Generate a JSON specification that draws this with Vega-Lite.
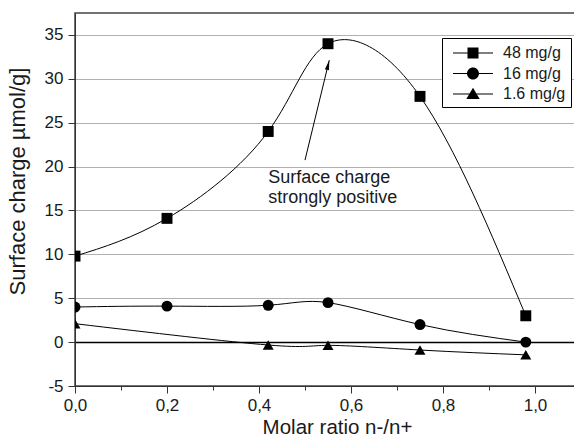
{
  "$schema": "https://vega.github.io/schema/vega-lite/v6.json",
  "width": 503,
  "height": 373,
  "autosize": "none",
  "padding": {"left": 75, "top": 13, "right": 0, "bottom": 55},
  "background": "white",
  "config": {
    "font": "Liberation Sans",
    "view": {"stroke": "#444", "strokeWidth": 1.5}
  },
  "datasets": {
    "curves": [
      {"ratio": 0, "charge": 9.8, "series": "48 mg/g"},
      {"ratio": 0.2, "charge": 14.1, "series": "48 mg/g"},
      {"ratio": 0.42, "charge": 24, "series": "48 mg/g"},
      {"ratio": 0.55, "charge": 34, "series": "48 mg/g"},
      {"ratio": 0.75, "charge": 28, "series": "48 mg/g"},
      {"ratio": 0.98, "charge": 3, "series": "48 mg/g"},
      {"ratio": 0, "charge": 4, "series": "16 mg/g"},
      {"ratio": 0.2, "charge": 4.1, "series": "16 mg/g"},
      {"ratio": 0.42, "charge": 4.2, "series": "16 mg/g"},
      {"ratio": 0.55, "charge": 4.5, "series": "16 mg/g"},
      {"ratio": 0.75, "charge": 2, "series": "16 mg/g"},
      {"ratio": 0.98, "charge": 0, "series": "16 mg/g"},
      {"ratio": 0, "charge": 2.1, "series": "1.6 mg/g"},
      {"ratio": 0.42, "charge": -0.33, "series": "1.6 mg/g"},
      {"ratio": 0.55, "charge": -0.37, "series": "1.6 mg/g"},
      {"ratio": 0.75, "charge": -0.9, "series": "1.6 mg/g"},
      {"ratio": 0.98, "charge": -1.45, "series": "1.6 mg/g"}
    ],
    "note": [{"x": 0.42, "y": 18.1}],
    "arrow": [{"x": 0.5, "y": 20.74, "x2": 0.5528, "y2": 32.13}]
  },
  "resolve": {"scale": {"shape": "independent"}},
  "layer": [
    {
      "data": {"name": "curves"},
      "mark": {"type": "line", "interpolate": "natural", "color": "black", "strokeWidth": 1, "clip": true},
      "encoding": {
        "x": {
          "field": "ratio", "type": "quantitative",
          "scale": {"domain": [0, 1.0935], "nice": false, "zero": false},
          "axis": {
            "title": "Molar ratio n-/n+",
            "values": [0, 0.1, 0.2, 0.3, 0.4, 0.5, 0.6, 0.7, 0.8, 0.9, 1.0],
            "grid": false,
            "labelFlush": false,
            "labelExpr": "abs(round(datum.value*10)%2)==0 ? replace(format(datum.value,'.1f'),'.',',') : ''",
            "tickSize": {"condition": {"test": "abs(round(datum.value*10)%2)==1", "value": 4}, "value": 7},
            "labelFontSize": 17,
            "titleFontSize": 20.5,
            "titleFontWeight": "normal",
            "labelColor": "#1a1a1a",
            "titleColor": "#1a1a1a",
            "domainColor": "#333",
            "tickColor": "#333",
            "labelPadding": 4,
            "titlePadding": 4,
            "titleX": 262,
            "titleAnchor": null
          }
        },
        "y": {
          "field": "charge", "type": "quantitative",
          "scale": {"domain": [-5, 37.5], "nice": false, "zero": false},
          "axis": {
            "title": "Surface charge µmol/g]",
            "values": [-5, -2.5, 0, 2.5, 5, 7.5, 10, 12.5, 15, 17.5, 20, 22.5, 25, 27.5, 30, 32.5, 35],
            "grid": true,
            "labelFlush": false,
            "gridColor": {"condition": {"test": "datum.value==0", "value": "black"}, "value": "#b0b0b0"},
            "gridOpacity": {"condition": {"test": "datum.value%5!=0 || datum.value==-5", "value": 0}, "value": 1},
            "gridWidth": {"condition": {"test": "datum.value==0", "value": 1.3}, "value": 1},
            "labelExpr": "datum.value%5==0 ? '' + datum.value : ''",
            "tickSize": {"condition": {"test": "datum.value%5!=0", "value": 4}, "value": 7},
            "labelFontSize": 17,
            "titleFontSize": 22,
            "titleFontWeight": "normal",
            "labelColor": "#1a1a1a",
            "titleColor": "#1a1a1a",
            "domainColor": "#333",
            "tickColor": "#333",
            "labelPadding": 5,
            "titlePadding": 15,
            "titleY": 168
          }
        },
        "detail": {"field": "series"}
      }
    },
    {
      "data": {"name": "curves"},
      "mark": {"type": "point", "filled": true, "color": "black", "opacity": 1, "size": 120, "clip": true},
      "encoding": {
        "x": {"field": "ratio", "type": "quantitative"},
        "y": {"field": "charge", "type": "quantitative"},
        "shape": {
          "field": "series", "type": "nominal",
          "scale": {"domain": ["48 mg/g", "16 mg/g", "1.6 mg/g"], "range": ["square", "circle", "triangle-up"]},
          "legend": null
        }
      }
    },
    {
      "data": {"name": "curves"},
      "mark": {"type": "point", "filled": true, "fill": "black", "opacity": 0},
      "encoding": {
        "x": {"field": "ratio", "type": "quantitative"},
        "y": {"field": "charge", "type": "quantitative"},
        "shape": {
          "field": "series", "type": "nominal",
          "scale": {
            "domain": ["48 mg/g", "16 mg/g", "1.6 mg/g"],
            "range": [
              "M-0.4,-0.05H3.6V0.05H-0.4ZM1.05,-0.55H2.15V0.55H1.05Z",
              "M-0.4,-0.05H3.6V0.05H-0.4ZM2.2,0A0.6,0.6 0 1,1 1.0,0A0.6,0.6 0 1,1 2.2,0Z",
              "M-0.4,-0.05H3.6V0.05H-0.4ZM1.6,-0.62L2.27,0.5H0.93Z"
            ]
          },
          "legend": {
            "title": null,
            "orient": "none",
            "legendX": 367,
            "legendY": 25,
            "padding": 5,
            "strokeColor": "black",
            "fillColor": "white",
            "symbolSize": 400,
            "symbolOpacity": 1,
            "symbolFillColor": "black",
            "symbolStrokeWidth": 0,
            "labelFontSize": 16,
            "labelColor": "#1a1a1a",
            "labelOffset": 36,
            "rowPadding": 2.5,
            "encode": {
              "symbols": {
                "fill": {"value": "black"},
                "opacity": {"value": 1}
              }
            }
          }
        }
      }
    },
    {
      "data": {"name": "note"},
      "mark": {"type": "text", "text": ["Surface charge", "strongly positive"], "align": "left", "baseline": "alphabetic", "fontSize": 18, "lineHeight": 20, "color": "#1a1a1a"},
      "encoding": {
        "x": {"field": "x", "type": "quantitative"},
        "y": {"field": "y", "type": "quantitative"}
      }
    },
    {
      "data": {"name": "arrow"},
      "mark": {"type": "rule", "color": "black", "strokeWidth": 1},
      "encoding": {
        "x": {"field": "x", "type": "quantitative"},
        "y": {"field": "y", "type": "quantitative"},
        "x2": {"field": "x2"},
        "y2": {"field": "y2"}
      }
    },
    {
      "data": {"name": "arrow"},
      "mark": {"type": "point", "filled": true, "color": "black", "opacity": 1, "size": 36, "shape": "M0,0L0.7,3.3L-0.7,3.3Z", "angle": 13.7},
      "encoding": {
        "x": {"field": "x2", "type": "quantitative"},
        "y": {"field": "y2", "type": "quantitative"}
      }
    }
  ]
}
